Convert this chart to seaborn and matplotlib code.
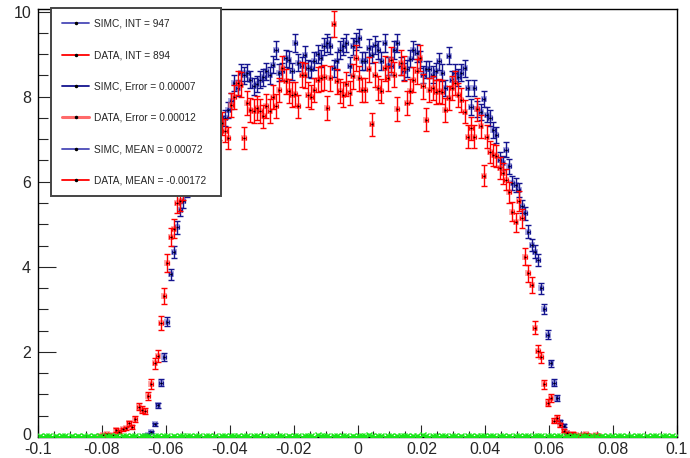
import numpy as np
import pandas as pd
import matplotlib
matplotlib.use("Agg")
import matplotlib.pyplot as plt
import matplotlib.transforms as mtransforms
import seaborn as sns
from matplotlib.lines import Line2D
from matplotlib.ticker import FixedLocator, FixedFormatter, MultipleLocator

# ---------------- data ----------------
n_bins = 200
x_range = (-0.1, 0.1)

simc_first_bin = 33
simc_vals = [
    0.02, 0.05, 0.12, 0.3, 0.75, 1.28, 1.87, 2.71, 3.82, 4.34,
    4.93, 5.34, 5.55, 5.8, 6.1, 6.3, 6.6, 6.8, 6.9, 7.1,
    7.2, 7.3, 7.3, 7.35, 7.37, 7.5, 7.69, 7.89, 8.32, 8.2,
    8.56, 8.5, 8.56, 8.4, 8.24, 8.3, 8.4, 8.45, 8.6, 8.5,
    8.75, 9.1, 8.56, 8.6, 8.9, 8.87, 8.6, 9.26, 8.8, 8.72,
    8.99, 8.67, 8.64, 8.84, 9.0, 8.9, 9.18, 9.26, 9.2, 8.67,
    8.84, 9.1, 9.18, 9.26, 8.72, 9.18, 9.3, 9.38, 8.84, 8.84,
    9.14, 8.99, 9.22, 9.1, 8.84, 9.26, 8.72, 8.72, 9.1, 9.26,
    8.72, 8.6, 8.65, 8.89, 9.1, 9.03, 8.87, 8.52, 8.64, 8.64,
    8.52, 8.6, 8.83, 8.56, 8.2, 8.96, 8.4, 8.56, 8.45, 8.56,
    8.67, 8.2, 7.76, 8.2, 7.7, 7.65, 7.95, 7.58, 7.5, 7.22,
    7.1, 6.52, 6.44, 6.75, 6.36, 5.97, 5.93, 5.81, 5.42, 5.26,
    4.83, 4.52, 4.36, 4.16, 3.5, 3.0, 2.4, 1.73, 1.28, 0.92,
    0.36, 0.26, 0.09, 0.05, 0.02,
]

data_first_bin = 19
data_vals = [
    0.02, 0.05, 0.06, 0.03, 0.05, 0.16, 0.12, 0.18, 0.2, 0.32,
    0.24, 0.42, 0.71, 0.64, 0.61, 0.96, 1.25, 1.73, 1.9, 2.67,
    3.32, 4.09, 4.7, 4.9, 5.5, 5.55, 5.8, 6.0, 6.2, 6.4,
    6.6, 6.7, 6.9, 7.0, 7.1, 7.1, 7.2, 7.25, 7.37, 7.2,
    7.03, 7.8, 8.0, 8.32, 8.28, 7.03, 7.85, 7.69, 7.66, 7.73,
    7.66, 7.54, 7.78, 7.66, 8.0, 7.78, 8.16, 8.67, 8.36, 8.13,
    8.05, 8.07, 7.77, 8.52, 8.5, 8.05, 8.0, 8.16, 8.4, 8.43,
    8.45, 7.73, 8.43, 9.71, 8.36, 8.13, 8.05, 8.3, 8.09, 8.48,
    8.91, 8.43, 8.16, 8.16, 8.64, 7.35, 8.52, 8.2, 8.13, 8.67,
    8.43, 8.87, 8.52, 7.71, 8.8, 8.67, 7.85, 8.13, 8.4, 8.6,
    8.91, 8.24, 7.46, 8.16, 8.2, 8.1, 8.13, 8.1, 7.69, 7.96,
    8.2, 8.32, 8.04, 7.93, 7.65, 7.06, 7.26, 7.06, 7.7, 7.3,
    6.14, 7.06, 6.7, 6.63, 6.6, 6.32, 6.2, 6.05, 5.75, 5.3,
    5.05, 5.54, 5.14, 4.24, 3.85, 3.58, 2.57, 2.03, 1.87, 1.24,
    0.81, 0.92, 0.38, 0.44, 0.28, 0.15, 0.09, 0.05, 0.08, 0.05,
    0.03, 0.04, 0.06, 0.02, 0.03, 0.05, 0.02,
]

green_vals = [
    0.02, 0.01, 0.02, 0.02, 0.01, 0.02, 0.01, 0.02, 0.02, 0.01,
    0.02, 0.01, 0.02, 0.01, 0.02, 0.02, 0.01, 0.02, 0.01, 0.02,
    0.01, 0.02, 0.02, 0.01, 0.02, 0.01, 0.02, 0.02, 0.01, 0.02,
    0.02, 0.01, 0.02, 0.03, 0.02, 0.01, 0.02, 0.02, 0.01, 0.02,
    0.02, 0.01, 0.02, 0.01, 0.02, 0.02, 0.03, 0.02, 0.01, 0.02,
    0.02, 0.01, 0.02, 0.02, 0.01, 0.02, 0.01, 0.02, 0.02, 0.01,
    0.02, 0.03, 0.02, 0.01, 0.02, 0.02, 0.01, 0.02, 0.02, 0.01,
    0.02, 0.01, 0.02, 0.02, 0.01, 0.02, 0.02, 0.01, 0.02, 0.01,
    0.02, 0.02, 0.01, 0.02, 0.03, 0.02, 0.01, 0.05, 0.02, 0.02,
    0.02, 0.01, 0.02, 0.02, 0.01, 0.02, 0.02, 0.01, 0.02, 0.01,
    0.02, 0.02, 0.03, 0.05, 0.02, 0.01, 0.02, 0.02, 0.01, 0.02,
    0.02, 0.01, 0.02, 0.02, 0.03, 0.02, 0.01, 0.02, 0.02, 0.01,
    0.05, 0.02, 0.01, 0.02, 0.02, 0.01, 0.02, 0.02, 0.01, 0.02,
    0.02, 0.01, 0.02, 0.01, 0.02, 0.02, 0.01, 0.02, 0.03, 0.02,
    0.01, 0.02, 0.02, 0.01, 0.02, 0.02, 0.01, 0.02, 0.01, 0.02,
    0.02, 0.01, 0.02, 0.02, 0.01, 0.02, 0.03, 0.02, 0.01, 0.02,
    0.02, 0.01, 0.02, 0.02, 0.01, 0.02, 0.01, 0.02, 0.02, 0.01,
    0.02, 0.02, 0.01, 0.02, 0.02, 0.01, 0.02, 0.01, 0.02, 0.02,
    0.01, 0.02, 0.02, 0.01, 0.02, 0.02, 0.01, 0.02, 0.02, 0.01,
    0.02, 0.01, 0.02, 0.02, 0.01, 0.02, 0.02, 0.01, 0.02, 0.01,
]

# relative statistical error scale (error = k * sqrt(content))
simc_err_scale = 0.068
data_err_scale = 0.10
green_err = 0.02

legend_labels = [
    "SIMC, INT = 947",
    "DATA, INT = 894",
    "SIMC, Error = 0.00007",
    "DATA, Error = 0.00012",
    "SIMC, MEAN = 0.00072",
    "DATA, MEAN = -0.00172",
]

x_ticks = [-0.1, -0.08, -0.06, -0.04, -0.02, 0.0, 0.02, 0.04, 0.06, 0.08, 0.1]
x_tick_labels = ["-0.1", "-0.08", "-0.06", "-0.04", "-0.02", "0",
                 "0.02", "0.04", "0.06", "0.08", "0.1"]
y_ticks = [0, 2, 4, 6, 8, 10]
y_tick_labels = ["0", "2", "4", "6", "8", "10"]

# ---------------- style ----------------
sns.set_style("ticks")
plt.rcParams["font.family"] = ["Liberation Sans", "DejaVu Sans"]
plt.rcParams["axes.unicode_minus"] = False

blue_bar = "#14148f"
blue_halo = "#6d6dcc"
blue_leg = "#4a4ab8"
red_bar = "#ff0000"
red_halo = "#ff6a6a"
green_col = "#19e619"

edges = np.linspace(x_range[0], x_range[1], n_bins + 1)
centers = 0.5 * (edges[:-1] + edges[1:])
half_w = 0.5 * (edges[1] - edges[0])

simc = pd.DataFrame({
    "x": centers[simc_first_bin:simc_first_bin + len(simc_vals)],
    "y": simc_vals,
})
simc["err"] = simc_err_scale * np.sqrt(simc["y"])
data = pd.DataFrame({
    "x": centers[data_first_bin:data_first_bin + len(data_vals)],
    "y": data_vals,
})
data["err"] = data_err_scale * np.sqrt(data["y"])
green = pd.DataFrame({"x": centers, "y": green_vals})

fig = plt.figure(figsize=(6.9, 4.58), dpi=100)
ax = fig.add_axes([38 / 690, 21 / 458, 639 / 690, 428 / 458])


def draw_series(df, bar, halo, z):
    sns.scatterplot(data=df, x="x", y="y", marker="s", s=24, color=halo,
                    alpha=0.55, linewidth=0, legend=False, ax=ax, zorder=z)
    ax.errorbar(df["x"], df["y"], yerr=df["err"], fmt="none", ecolor=bar,
                elinewidth=1.0, capsize=2.3, capthick=1.0, zorder=z + 0.1)
    ax.errorbar(df["x"], df["y"], xerr=half_w, fmt="none", ecolor=bar,
                elinewidth=0.9, capsize=1.2, capthick=0.9, zorder=z + 0.1)
    sns.scatterplot(data=df, x="x", y="y", marker="o", s=1.5, color="black",
                    linewidth=0, legend=False, ax=ax, zorder=z + 0.2)


draw_series(simc, blue_bar, blue_halo, 2)
draw_series(data, red_bar, red_halo, 3)

ax.errorbar(green["x"], green["y"], xerr=half_w, yerr=green_err, fmt="x",
            color=green_col, ms=4.0, mew=1.0, elinewidth=1.0, capsize=0,
            zorder=4)

ax.set_xlim(*x_range)
ax.set_ylim(0, 10.06)
ax.xaxis.set_major_locator(FixedLocator(x_ticks))
ax.xaxis.set_major_formatter(FixedFormatter(x_tick_labels))
ax.xaxis.set_minor_locator(MultipleLocator(0.005))
ax.yaxis.set_major_locator(FixedLocator(y_ticks))
ax.yaxis.set_major_formatter(FixedFormatter(y_tick_labels))
ax.yaxis.set_minor_locator(MultipleLocator(0.5))
ax.tick_params(axis="x", which="major", direction="in", length=8.5, width=0.8,
               labelsize=11.5, pad=3.5, top=False)
ax.tick_params(axis="x", which="minor", direction="in", length=4.3, width=0.8,
               top=False)
ax.tick_params(axis="y", which="major", direction="in", length=13, width=0.8,
               labelsize=11.5, pad=5, right=False)
ax.tick_params(axis="y", which="minor", direction="in", length=7, width=0.8,
               right=False)
for sp in ax.spines.values():
    sp.set_visible(True)
    sp.set_linewidth(1.0)
    sp.set_color("black")
ax.set_xlabel("")
ax.set_ylabel("")

# lift the y "0" label a touch so it does not collide with the "-0.1" label
fig.canvas.draw()
zero_lbl = ax.yaxis.get_majorticklabels()[0]
zero_lbl.set_transform(zero_lbl.get_transform() +
                       mtransforms.ScaledTranslation(0, 3 / 100, fig.dpi_scale_trans))

handle_styles = [
    (blue_leg, 1.3), (red_bar, 1.3), (blue_bar, 1.3),
    (red_halo, 2.2), (blue_leg, 1.3), (red_bar, 1.3),
]
handles = [Line2D([0], [0], color=c, lw=lw, marker="o", markersize=1.5,
                  markerfacecolor="black", markeredgecolor="black")
           for c, lw in handle_styles]
leg = ax.legend(handles, legend_labels, loc="upper left",
                bbox_to_anchor=(13 / 639, 0.0, 170 / 639, 1.0023),
                mode="expand", borderaxespad=0, fontsize=7.3,
                handlelength=2.7, handletextpad=0.5, borderpad=1.08,
                labelspacing=2.1, fancybox=False, framealpha=1.0,
                edgecolor="#444444")
leg.get_frame().set_linewidth(1.4)
leg.set_zorder(10)

fig.savefig("out.png", dpi=100)
